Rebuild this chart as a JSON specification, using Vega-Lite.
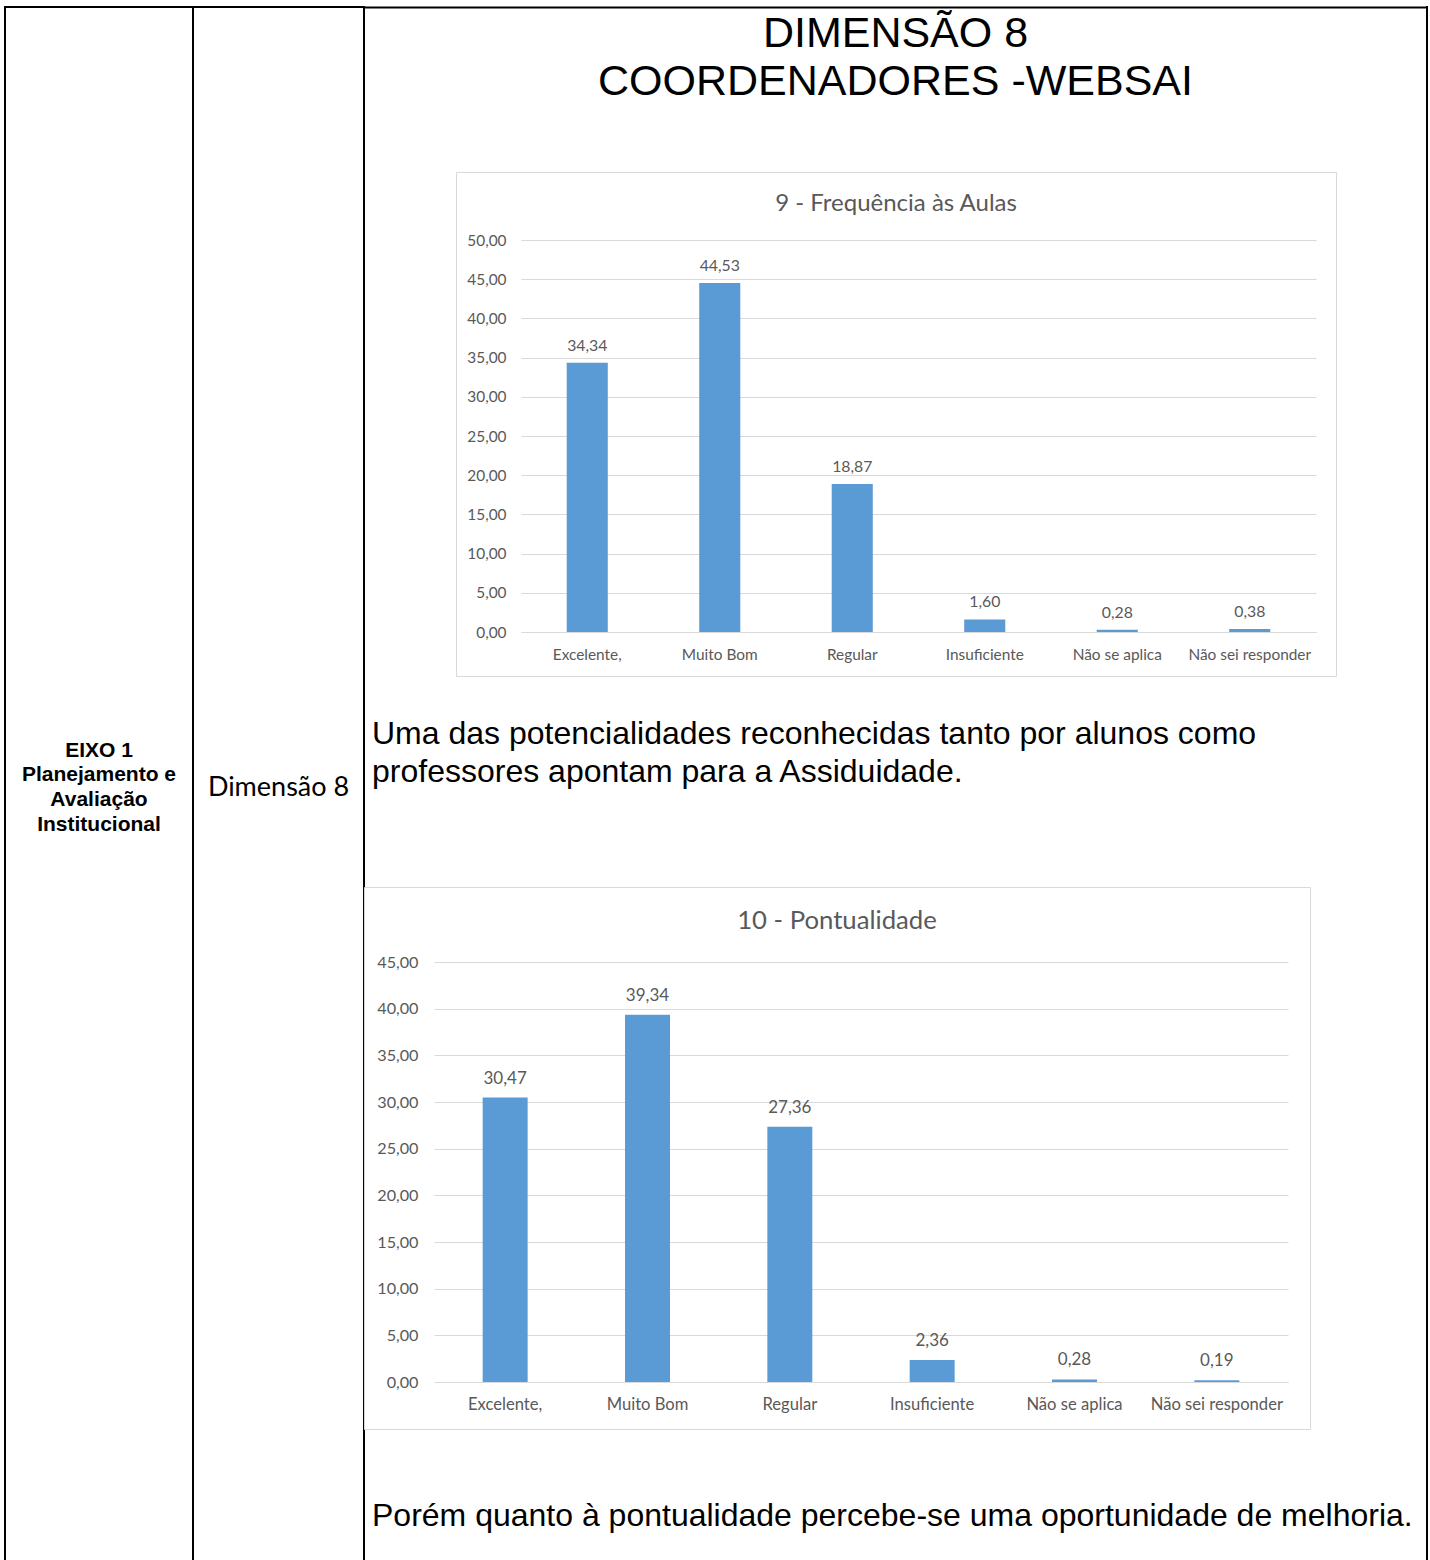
{
  "$schema": "https://vega.github.io/schema/vega-lite/v6.json",
  "background": "white",
  "padding": {"left": 4, "top": 6, "right": 0, "bottom": 0},
  "spacing": 0,
  "bounds": "flush",
  "config": {
    "view": {"stroke": null},
    "locale": {"number": {"decimal": ",", "thousands": ".", "grouping": [3], "currency": ["R$", ""]}}
  },
  "datasets": {
    "freq": [
      {"cat": "Excelente,", "val": 34.34},
      {"cat": "Muito Bom", "val": 44.53},
      {"cat": "Regular", "val": 18.87},
      {"cat": "Insuficiente", "val": 1.60},
      {"cat": "Não se aplica", "val": 0.28},
      {"cat": "Não sei responder", "val": 0.38}
    ],
    "pont": [
      {"cat": "Excelente,", "val": 30.47},
      {"cat": "Muito Bom", "val": 39.34},
      {"cat": "Regular", "val": 27.36},
      {"cat": "Insuficiente", "val": 2.36},
      {"cat": "Não se aplica", "val": 0.28},
      {"cat": "Não sei responder", "val": 0.19}
    ]
  },
  "hconcat": [
    {
      "width": 188, "height": 1561,
      "view": {"stroke": "black", "strokeWidth": 2},
      "data": {"values": [{"label": "EIXO 1\nPlanejamento e\nAvaliação\nInstitucional"}]},
      "mark": {"type": "text", "font": "Liberation Sans", "fontWeight": "bold", "fontSize": 21, "lineBreak": "\n", "lineHeight": 24.7, "align": "center", "baseline": "middle", "dy": -37, "color": "black"},
      "encoding": {"text": {"field": "label"}}
    },
    {
      "width": 171, "height": 1561,
      "view": {"stroke": "black", "strokeWidth": 2},
      "data": {"values": [{"label": "Dimensão 8"}]},
      "mark": {"type": "text", "font": "Lato", "fontSize": 27, "align": "center", "baseline": "middle", "color": "black"},
      "encoding": {"text": {"field": "label"}}
    },
    {
      "hconcat": [
        {
          "vconcat": [
            {
              "width": 1063, "height": 163.5,
              "data": {"values": [{"k": "t", "label": "DIMENSÃO 8\nCOORDENADORES -WEBSAI"}]},
              "mark": {"type": "text", "font": "Liberation Sans", "fontSize": 43, "lineBreak": "\n", "lineHeight": 48, "align": "center", "baseline": "alphabetic", "dy": -42, "color": "black"},
              "encoding": {
                "x": {"field": "k", "type": "nominal", "axis": {"orient": "top", "domain": true, "domainColor": "black", "domainWidth": 2, "labels": false, "ticks": false, "grid": false, "title": null}},
                "text": {"field": "label"}
              }
            },
            {
              "hconcat": [
                {"width": 90.5, "height": 504, "data": {"values": []}, "mark": "point"},
                {
                  "width": 880, "height": 504,
                  "view": {"stroke": "#d9d9d9", "strokeWidth": 1, "fill": "white"},
                  "title": {"text": "9 - Frequência às Aulas", "font": "Lato", "fontSize": 24, "fontWeight": "normal", "color": "#595959", "anchor": "middle", "frame": "group", "offset": -44},
                  "data": {"name": "freq"},
                  "encoding": {
                    "x": {"field": "cat", "type": "nominal", "sort": null,
                      "scale": {"range": [65, 860], "paddingInner": 0.69, "paddingOuter": 0.345},
                      "axis": {"title": null, "labelAngle": 0, "domain": true, "domainColor": "#d9d9d9", "domainWidth": 1, "ticks": false, "tickSize": 0, "grid": false, "labelFont": "Lato", "labelFontSize": 15.4, "labelColor": "#595959", "labelPadding": 15, "offset": -44}},
                    "y": {"field": "val", "type": "quantitative",
                      "scale": {"domain": [0, 50], "range": [460, 68], "nice": false},
                      "axis": {"title": null, "values": [0, 5, 10, 15, 20, 25, 30, 35, 40, 45, 50], "format": ".2f", "domain": false, "ticks": false, "tickSize": 0, "grid": true, "gridColor": "#d9d9d9", "gridWidth": 1, "labelFont": "Lato", "labelFontSize": 15.4, "labelColor": "#595959", "labelPadding": 15, "offset": -65}}
                  },
                  "layer": [
                    {"mark": {"type": "bar", "color": "#5B9BD5"}},
                    {"mark": {"type": "text", "font": "Lato", "fontSize": 15.8, "color": "#595959", "align": "center", "baseline": "bottom", "dy": -9},
                     "encoding": {"text": {"field": "val", "type": "quantitative", "format": ".2f"}}}
                  ]
                }
              ],
              "spacing": 0,
              "bounds": "full"
            },
            {
              "width": 1063, "height": 209,
              "data": {"values": [{"k": "p", "label": "Uma das potencialidades reconhecidas tanto por alunos como\nprofessores apontam para a Assiduidade."}]},
              "mark": {"type": "text", "font": "Liberation Sans", "fontSize": 32, "lineBreak": "\n", "lineHeight": 38, "align": "left", "baseline": "alphabetic", "dx": 8, "dy": -38, "color": "black"},
              "encoding": {
                "x": {"field": "k", "type": "nominal", "scale": {"align": 0, "padding": 0}, "axis": null},
                "text": {"field": "label"}
              }
            },
            {
              "width": 946, "height": 542,
              "view": {"stroke": "#d9d9d9", "strokeWidth": 1, "fill": "white"},
              "title": {"text": "10 - Pontualidade", "font": "Lato", "fontSize": 25.7, "fontWeight": "normal", "color": "#595959", "anchor": "middle", "frame": "group", "offset": -48},
              "data": {"name": "pont"},
              "encoding": {
                "x": {"field": "cat", "type": "nominal", "sort": null,
                  "scale": {"range": [70, 924], "paddingInner": 0.684, "paddingOuter": 0.342},
                  "axis": {"title": null, "labelAngle": 0, "domain": true, "domainColor": "#d9d9d9", "domainWidth": 1, "ticks": false, "tickSize": 0, "grid": false, "labelFont": "Lato", "labelFontSize": 16.6, "labelColor": "#595959", "labelPadding": 14, "offset": -47}},
                "y": {"field": "val", "type": "quantitative",
                  "scale": {"domain": [0, 45], "range": [495, 75], "nice": false},
                  "axis": {"title": null, "values": [0, 5, 10, 15, 20, 25, 30, 35, 40, 45], "format": ".2f", "domain": false, "ticks": false, "tickSize": 0, "grid": true, "gridColor": "#d9d9d9", "gridWidth": 1, "labelFont": "Lato", "labelFontSize": 16.2, "labelColor": "#595959", "labelPadding": 16, "offset": -70}}
              },
              "layer": [
                {"mark": {"type": "bar", "color": "#5B9BD5"}},
                {"mark": {"type": "text", "font": "Lato", "fontSize": 17, "color": "#595959", "align": "center", "baseline": "bottom", "dy": -10},
                 "encoding": {"text": {"field": "val", "type": "quantitative", "format": ".2f"}}}
              ]
            },
            {
              "width": 1063, "height": 140,
              "data": {"values": [{"k": "p", "label": "Porém quanto à pontualidade percebe-se uma oportunidade de melhoria."}]},
              "mark": {"type": "text", "font": "Liberation Sans", "fontSize": 32, "align": "left", "baseline": "alphabetic", "dx": 8, "dy": 26, "color": "black"},
              "encoding": {
                "x": {"field": "k", "type": "nominal", "scale": {"align": 0, "padding": 0}, "axis": null},
                "text": {"field": "label"}
              }
            }
          ],
          "spacing": 0,
          "bounds": "full"
        },
        {
          "width": 0.01, "height": 1561,
          "view": {"stroke": "black", "strokeWidth": 2},
          "data": {"values": []},
          "mark": "point"
        }
      ],
      "spacing": -1,
      "bounds": "full"
    }
  ]
}
